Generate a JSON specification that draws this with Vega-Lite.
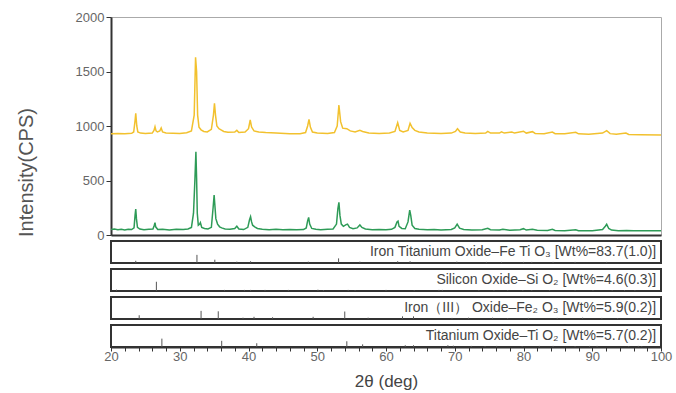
{
"$schema":"https://vega.github.io/schema/vega-lite/v6.json",
"padding":{"left":15,"top":10,"right":4,"bottom":4},
"spacing":6,
"bounds":"flush",
"config":{"font":"Liberation Sans","view":{"stroke":"#333","strokeWidth":2},"axis":{"grid":false}},
"datasets":{
"xrd":[
{"s":"A","x":20,"y":930},{"s":"A","x":21,"y":932},{"s":"A","x":22,"y":930},{"s":"A","x":23,"y":933},{"s":"A","x":23.3,"y":945},{"s":"A","x":23.5,"y":1050},{"s":"A","x":23.6,"y":1116},{"s":"A","x":23.75,"y":1000},{"s":"A","x":23.9,"y":945},{"s":"A","x":24.3,"y":935},{"s":"A","x":25,"y":932},{"s":"A","x":26,"y":935},{"s":"A","x":26.25,"y":960},{"s":"A","x":26.4,"y":994},{"s":"A","x":26.55,"y":955},{"s":"A","x":26.75,"y":945},{"s":"A","x":27.1,"y":955},{"s":"A","x":27.3,"y":982},{"s":"A","x":27.5,"y":945},{"s":"A","x":28,"y":935},{"s":"A","x":29,"y":933},{"s":"A","x":30,"y":932},{"s":"A","x":31,"y":938},{"s":"A","x":31.7,"y":955},{"s":"A","x":32.1,"y":1100},{"s":"A","x":32.3,"y":1630},{"s":"A","x":32.45,"y":1500},{"s":"A","x":32.6,"y":1100},{"s":"A","x":32.8,"y":990},{"s":"A","x":33.1,"y":965},{"s":"A","x":33.5,"y":950},{"s":"A","x":34,"y":945},{"s":"A","x":34.6,"y":970},{"s":"A","x":34.9,"y":1100},{"s":"A","x":35.05,"y":1208},{"s":"A","x":35.2,"y":1100},{"s":"A","x":35.4,"y":1000},{"s":"A","x":35.7,"y":975},{"s":"A","x":36,"y":965},{"s":"A","x":36.4,"y":950},{"s":"A","x":37,"y":942},{"s":"A","x":38,"y":945},{"s":"A","x":38.3,"y":960},{"s":"A","x":38.6,"y":940},{"s":"A","x":39.5,"y":945},{"s":"A","x":40,"y":975},{"s":"A","x":40.25,"y":1055},{"s":"A","x":40.45,"y":990},{"s":"A","x":40.8,"y":955},{"s":"A","x":41.5,"y":945},{"s":"A","x":42.5,"y":940},{"s":"A","x":44,"y":936},{"s":"A","x":46,"y":930},{"s":"A","x":47.5,"y":930},{"s":"A","x":48.3,"y":940},{"s":"A","x":48.6,"y":1000},{"s":"A","x":48.8,"y":1061},{"s":"A","x":49,"y":990},{"s":"A","x":49.3,"y":945},{"s":"A","x":50,"y":935},{"s":"A","x":51.5,"y":932},{"s":"A","x":52.5,"y":940},{"s":"A","x":52.9,"y":1000},{"s":"A","x":53.15,"y":1193},{"s":"A","x":53.4,"y":1040},{"s":"A","x":53.7,"y":980},{"s":"A","x":54.3,"y":975},{"s":"A","x":54.8,"y":955},{"s":"A","x":55.5,"y":945},{"s":"A","x":56.2,"y":960},{"s":"A","x":56.6,"y":950},{"s":"A","x":57.5,"y":935},{"s":"A","x":59,"y":932},{"s":"A","x":60.5,"y":935},{"s":"A","x":61.3,"y":950},{"s":"A","x":61.7,"y":1030},{"s":"A","x":62,"y":960},{"s":"A","x":62.5,"y":945},{"s":"A","x":63.2,"y":960},{"s":"A","x":63.5,"y":1025},{"s":"A","x":63.8,"y":985},{"s":"A","x":64.2,"y":960},{"s":"A","x":64.8,"y":945},{"s":"A","x":66,"y":935},{"s":"A","x":68,"y":932},{"s":"A","x":69.5,"y":935},{"s":"A","x":70.1,"y":950},{"s":"A","x":70.4,"y":975},{"s":"A","x":70.8,"y":945},{"s":"A","x":71.5,"y":935},{"s":"A","x":73,"y":932},{"s":"A","x":74.5,"y":935},{"s":"A","x":74.8,"y":950},{"s":"A","x":75.2,"y":935},{"s":"A","x":76.5,"y":935},{"s":"A","x":76.8,"y":947},{"s":"A","x":77.2,"y":935},{"s":"A","x":78.3,"y":945},{"s":"A","x":78.7,"y":935},{"s":"A","x":80,"y":952},{"s":"A","x":80.4,"y":935},{"s":"A","x":81.3,"y":948},{"s":"A","x":81.7,"y":932},{"s":"A","x":83,"y":930},{"s":"A","x":84.2,"y":945},{"s":"A","x":84.6,"y":930},{"s":"A","x":86,"y":928},{"s":"A","x":87.6,"y":942},{"s":"A","x":88,"y":928},{"s":"A","x":89.5,"y":925},{"s":"A","x":91.5,"y":935},{"s":"A","x":92.1,"y":957},{"s":"A","x":92.6,"y":930},{"s":"A","x":93.5,"y":925},{"s":"A","x":94.9,"y":935},{"s":"A","x":95.3,"y":922},{"s":"A","x":97,"y":920},{"s":"A","x":100,"y":918},
{"s":"B","x":20,"y":50},{"s":"B","x":20.5,"y":55},{"s":"B","x":21,"y":48},{"s":"B","x":21.5,"y":52},{"s":"B","x":22,"y":47},{"s":"B","x":22.5,"y":53},{"s":"B","x":23,"y":50},{"s":"B","x":23.35,"y":65},{"s":"B","x":23.5,"y":180},{"s":"B","x":23.6,"y":238},{"s":"B","x":23.7,"y":150},{"s":"B","x":23.85,"y":70},{"s":"B","x":24.2,"y":55},{"s":"B","x":24.8,"y":48},{"s":"B","x":25.5,"y":52},{"s":"B","x":26.1,"y":55},{"s":"B","x":26.3,"y":90},{"s":"B","x":26.4,"y":113},{"s":"B","x":26.5,"y":75},{"s":"B","x":26.8,"y":50},{"s":"B","x":27.5,"y":52},{"s":"B","x":28.5,"y":47},{"s":"B","x":29.5,"y":52},{"s":"B","x":30.5,"y":50},{"s":"B","x":31.2,"y":55},{"s":"B","x":31.7,"y":70},{"s":"B","x":32,"y":200},{"s":"B","x":32.2,"y":500},{"s":"B","x":32.35,"y":764},{"s":"B","x":32.45,"y":520},{"s":"B","x":32.55,"y":200},{"s":"B","x":32.7,"y":90},{"s":"B","x":32.9,"y":100},{"s":"B","x":33,"y":113},{"s":"B","x":33.2,"y":70},{"s":"B","x":33.6,"y":60},{"s":"B","x":34.1,"y":55},{"s":"B","x":34.6,"y":70},{"s":"B","x":34.85,"y":250},{"s":"B","x":35,"y":367},{"s":"B","x":35.1,"y":280},{"s":"B","x":35.25,"y":150},{"s":"B","x":35.5,"y":100},{"s":"B","x":35.8,"y":75},{"s":"B","x":36.1,"y":65},{"s":"B","x":36.6,"y":55},{"s":"B","x":37.3,"y":52},{"s":"B","x":38,"y":60},{"s":"B","x":38.3,"y":80},{"s":"B","x":38.6,"y":55},{"s":"B","x":39.3,"y":50},{"s":"B","x":39.9,"y":70},{"s":"B","x":40.15,"y":140},{"s":"B","x":40.3,"y":168},{"s":"B","x":40.45,"y":120},{"s":"B","x":40.6,"y":90},{"s":"B","x":40.9,"y":75},{"s":"B","x":41.3,"y":60},{"s":"B","x":42,"y":52},{"s":"B","x":43,"y":48},{"s":"B","x":44,"y":52},{"s":"B","x":45,"y":48},{"s":"B","x":46,"y":50},{"s":"B","x":47,"y":48},{"s":"B","x":48,"y":50},{"s":"B","x":48.4,"y":65},{"s":"B","x":48.6,"y":130},{"s":"B","x":48.75,"y":162},{"s":"B","x":48.9,"y":100},{"s":"B","x":49.2,"y":60},{"s":"B","x":49.8,"y":52},{"s":"B","x":50.5,"y":48},{"s":"B","x":51.5,"y":52},{"s":"B","x":52.3,"y":55},{"s":"B","x":52.8,"y":100},{"s":"B","x":53,"y":240},{"s":"B","x":53.15,"y":300},{"s":"B","x":53.3,"y":180},{"s":"B","x":53.5,"y":100},{"s":"B","x":53.8,"y":80},{"s":"B","x":54.2,"y":95},{"s":"B","x":54.4,"y":100},{"s":"B","x":54.7,"y":70},{"s":"B","x":55.2,"y":58},{"s":"B","x":55.8,"y":65},{"s":"B","x":56.2,"y":92},{"s":"B","x":56.5,"y":70},{"s":"B","x":57,"y":55},{"s":"B","x":58,"y":48},{"s":"B","x":59,"y":50},{"s":"B","x":60,"y":48},{"s":"B","x":60.8,"y":52},{"s":"B","x":61.3,"y":70},{"s":"B","x":61.6,"y":120},{"s":"B","x":61.75,"y":128},{"s":"B","x":61.9,"y":80},{"s":"B","x":62.3,"y":60},{"s":"B","x":62.8,"y":58},{"s":"B","x":63.2,"y":120},{"s":"B","x":63.45,"y":229},{"s":"B","x":63.6,"y":180},{"s":"B","x":63.8,"y":90},{"s":"B","x":64.2,"y":60},{"s":"B","x":64.8,"y":52},{"s":"B","x":66,"y":48},{"s":"B","x":67,"y":50},{"s":"B","x":68,"y":46},{"s":"B","x":69.5,"y":50},{"s":"B","x":70,"y":65},{"s":"B","x":70.35,"y":100},{"s":"B","x":70.7,"y":62},{"s":"B","x":71.3,"y":50},{"s":"B","x":72.5,"y":46},{"s":"B","x":74,"y":48},{"s":"B","x":74.8,"y":62},{"s":"B","x":75.2,"y":48},{"s":"B","x":76.5,"y":45},{"s":"B","x":77,"y":52},{"s":"B","x":78,"y":44},{"s":"B","x":79.5,"y":48},{"s":"B","x":80,"y":58},{"s":"B","x":80.4,"y":45},{"s":"B","x":81.3,"y":52},{"s":"B","x":82,"y":44},{"s":"B","x":83.5,"y":42},{"s":"B","x":84.2,"y":52},{"s":"B","x":84.6,"y":42},{"s":"B","x":86,"y":40},{"s":"B","x":87.6,"y":48},{"s":"B","x":88,"y":40},{"s":"B","x":90,"y":40},{"s":"B","x":91.5,"y":50},{"s":"B","x":91.9,"y":80},{"s":"B","x":92.1,"y":98},{"s":"B","x":92.4,"y":60},{"s":"B","x":92.8,"y":45},{"s":"B","x":93.8,"y":40},{"s":"B","x":95,"y":42},{"s":"B","x":96,"y":38},{"s":"B","x":97.5,"y":40},{"s":"B","x":99,"y":38},{"s":"B","x":100,"y":40}
],
"sticks":[
{"p":"F","x":23.6,"h":10},{"p":"F","x":32.5,"h":37},{"p":"F","x":35.1,"h":15},{"p":"F","x":38.3,"h":6},{"p":"F","x":40.3,"h":8},{"p":"F","x":48.7,"h":6},{"p":"F","x":53.1,"h":21},{"p":"F","x":56.2,"h":6},{"p":"F","x":61.7,"h":8},{"p":"F","x":63.5,"h":8},{"p":"F","x":70.3,"h":6},{"p":"F","x":74.6,"h":5},{"p":"F","x":76.8,"h":5},{"p":"F","x":80,"h":5},{"p":"F","x":81.2,"h":5},{"p":"F","x":84.3,"h":5},{"p":"F","x":87.5,"h":5},{"p":"F","x":92.1,"h":5},
{"p":"S","x":20.8,"h":6},{"p":"S","x":26.6,"h":42},{"p":"S","x":36.5,"h":5},{"p":"S","x":39.4,"h":5},{"p":"S","x":40.3,"h":5},{"p":"S","x":42.4,"h":5},{"p":"S","x":45.8,"h":5},{"p":"S","x":50.1,"h":6},{"p":"S","x":50.9,"h":4},{"p":"S","x":54.5,"h":5},{"p":"S","x":55.5,"h":4},{"p":"S","x":60,"h":5},{"p":"S","x":64.1,"h":4},{"p":"S","x":67.7,"h":5},{"p":"S","x":68.2,"h":5},{"p":"S","x":73.5,"h":4},{"p":"S","x":75.7,"h":4},{"p":"S","x":77.7,"h":4},{"p":"S","x":79.9,"h":4},{"p":"S","x":81.2,"h":4},{"p":"S","x":83.8,"h":4},{"p":"S","x":87.5,"h":4},{"p":"S","x":90.1,"h":4},{"p":"S","x":92.9,"h":4},{"p":"S","x":94.7,"h":4},{"p":"S","x":96.2,"h":4},
{"p":"H","x":24.1,"h":17},{"p":"H","x":33.1,"h":37},{"p":"H","x":35.6,"h":35},{"p":"H","x":39.2,"h":6},{"p":"H","x":40.8,"h":10},{"p":"H","x":43.5,"h":8},{"p":"H","x":49.4,"h":10},{"p":"H","x":54,"h":34},{"p":"H","x":57.4,"h":6},{"p":"H","x":62.4,"h":12},{"p":"H","x":64,"h":12},{"p":"H","x":69.6,"h":5},{"p":"H","x":72,"h":6},{"p":"H","x":75.5,"h":6},{"p":"H","x":77.7,"h":4},{"p":"H","x":80.7,"h":5},{"p":"H","x":84.9,"h":5},{"p":"H","x":88.6,"h":6},{"p":"H","x":91.4,"h":5},{"p":"H","x":93.7,"h":4},
{"p":"T","x":27.4,"h":38},{"p":"T","x":36.1,"h":28},{"p":"T","x":41.2,"h":17},{"p":"T","x":44,"h":5},{"p":"T","x":54.3,"h":26},{"p":"T","x":56.6,"h":12},{"p":"T","x":62.8,"h":8},{"p":"T","x":64,"h":8},{"p":"T","x":69,"h":8},{"p":"T","x":69.8,"h":6},{"p":"T","x":72.4,"h":5},{"p":"T","x":74.4,"h":4},{"p":"T","x":76.1,"h":5},{"p":"T","x":79.8,"h":4},{"p":"T","x":82.3,"h":5},{"p":"T","x":84.3,"h":5},{"p":"T","x":87.5,"h":4},{"p":"T","x":89.6,"h":5},{"p":"T","x":90.7,"h":5},{"p":"T","x":95.3,"h":4},{"p":"T","x":96.7,"h":5},{"p":"T","x":97.2,"h":4}
],
"labels":[
{"p":"F","x":99.3,"y":50,"t":"Iron Titanium Oxide–Fe Ti O₃ [Wt%=83.7(1.0)]"},
{"p":"S","x":99.3,"y":50,"t":"Silicon Oxide–Si O₂ [Wt%=4.6(0.3)]"},
{"p":"H","x":99.3,"y":50,"t":"Iron（III） Oxide–Fe₂ O₃ [Wt%=5.9(0.2)]"},
{"p":"T","x":99.3,"y":50,"t":"Titanium Oxide–Ti O₂ [Wt%=5.7(0.2)]"}
]
},
"vconcat":[
{"width":550,"height":218,"view":{"stroke":"#aaa","strokeWidth":1},
 "data":{"name":"xrd"},
 "mark":{"type":"line","strokeWidth":1.5,"interpolate":"linear"},
 "encoding":{
  "x":{"field":"x","type":"quantitative","scale":{"domain":[20,100],"nice":false},"axis":{"labels":false,"ticks":false,"title":null,"domainColor":"#333","domainWidth":2}},
  "y":{"field":"y","type":"quantitative","scale":{"domain":[0,2000],"nice":false},"axis":{"values":[0,500,1000,1500,2000],"format":"d","title":"Intensity(CPS)","titleFontSize":20,"titleFontWeight":"normal","titleColor":"#555","titlePadding":39,"titleY":155,"labelFontSize":13,"labelColor":"#666","tickSize":5,"tickColor":"#333","domainColor":"#333","domainWidth":2,"labelPadding":2}},
  "color":{"field":"s","type":"nominal","scale":{"domain":["A","B"],"range":["#F2C12E","#2E9B57"]},"legend":null}
 }},
{"width":550,"height":22,"layer":[
 {"data":{"name":"sticks"},"transform":[{"filter":"datum.p==='F'"}],"mark":{"type":"rule","color":"#555","strokeWidth":1},
  "encoding":{"x":{"field":"x","type":"quantitative","scale":{"domain":[20,100],"nice":false},"axis":null},"y":{"field":"h","type":"quantitative","scale":{"domain":[0,100],"nice":false},"axis":null},"y2":{"datum":0}}},
 {"data":{"name":"labels"},"transform":[{"filter":"datum.p==='F'"}],"mark":{"type":"text","align":"right","baseline":"middle","fontSize":14,"color":"#444"},
  "encoding":{"x":{"field":"x","type":"quantitative"},"y":{"field":"y","type":"quantitative"},"text":{"field":"t","type":"nominal"}}}
]},
{"width":550,"height":22,"layer":[
 {"data":{"name":"sticks"},"transform":[{"filter":"datum.p==='S'"}],"mark":{"type":"rule","color":"#555","strokeWidth":1},
  "encoding":{"x":{"field":"x","type":"quantitative","scale":{"domain":[20,100],"nice":false},"axis":null},"y":{"field":"h","type":"quantitative","scale":{"domain":[0,100],"nice":false},"axis":null},"y2":{"datum":0}}},
 {"data":{"name":"labels"},"transform":[{"filter":"datum.p==='S'"}],"mark":{"type":"text","align":"right","baseline":"middle","fontSize":14,"color":"#444"},
  "encoding":{"x":{"field":"x","type":"quantitative"},"y":{"field":"y","type":"quantitative"},"text":{"field":"t","type":"nominal"}}}
]},
{"width":550,"height":22,"layer":[
 {"data":{"name":"sticks"},"transform":[{"filter":"datum.p==='H'"}],"mark":{"type":"rule","color":"#555","strokeWidth":1},
  "encoding":{"x":{"field":"x","type":"quantitative","scale":{"domain":[20,100],"nice":false},"axis":null},"y":{"field":"h","type":"quantitative","scale":{"domain":[0,100],"nice":false},"axis":null},"y2":{"datum":0}}},
 {"data":{"name":"labels"},"transform":[{"filter":"datum.p==='H'"}],"mark":{"type":"text","align":"right","baseline":"middle","fontSize":14,"color":"#444"},
  "encoding":{"x":{"field":"x","type":"quantitative"},"y":{"field":"y","type":"quantitative"},"text":{"field":"t","type":"nominal"}}}
]},
{"width":550,"height":22,
 "resolve":{"axis":{"x":"independent"}},
 "layer":[
 {"data":{"name":"sticks"},"transform":[{"filter":"datum.p==='T'"}],"mark":{"type":"rule","color":"#555","strokeWidth":1},
  "encoding":{"x":{"field":"x","type":"quantitative","scale":{"domain":[20,100],"nice":false},"axis":{"orient":"bottom","values":[20,22,24,26,28,30,32,34,36,38,40,42,44,46,48,50,52,54,56,58,60,62,64,66,68,70,72,74,76,78,80,82,84,86,88,90,92,94,96,98,100],"labels":false,"tickSize":4,"tickColor":"#333","domainColor":"#333","domainWidth":2,"title":null}},"y":{"field":"h","type":"quantitative","scale":{"domain":[0,100],"nice":false},"axis":null},"y2":{"datum":0}}},
 {"data":{"name":"labels"},"transform":[{"filter":"datum.p==='T'"}],"mark":{"type":"text","align":"right","baseline":"middle","fontSize":14,"color":"#444"},
  "encoding":{"x":{"field":"x","type":"quantitative","axis":{"orient":"bottom","values":[20,30,40,50,60,70,80,90,100],"ticks":false,"domain":false,"labelFlush":false,"labelFontSize":13,"labelColor":"#666","labelPadding":3,"title":"2θ (deg)","titleFontSize":17,"titleFontWeight":"normal","titleColor":"#444","titlePadding":10}},"y":{"field":"y","type":"quantitative"},"text":{"field":"t","type":"nominal"}}}
]}
]
}
